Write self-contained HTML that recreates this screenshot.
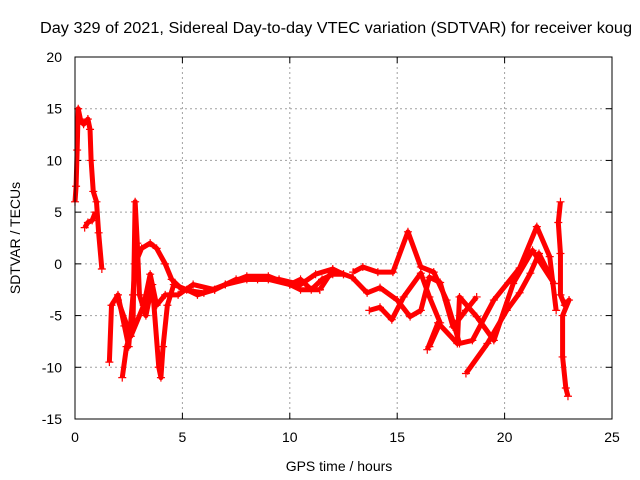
<!DOCTYPE html>
<html><head><meta charset="utf-8"><style>
body{margin:0;background:#fff;}
svg{display:block;font-family:"Liberation Sans",sans-serif;font-size:14px;}
</style></head><body>
<svg id="chart" width="640" height="480">
<text x="40" y="33" textLength="592" lengthAdjust="spacingAndGlyphs" style="font-size:15.5px">Day 329 of 2021, Sidereal Day-to-day VTEC variation (SDTVAR) for receiver koug</text>
<g id="grid"></g>
<g id="ticks"></g>
<g id="series"></g>
<rect x="75" y="57" width="537" height="362" fill="none" stroke="#000" stroke-width="1"/>
<text x="339" y="471" text-anchor="middle">GPS time / hours</text>
<text x="0" y="0" transform="translate(20,238) rotate(-90)" text-anchor="middle">SDTVAR / TECUs</text>
</svg>
<script>
const xTicks=[0,5,10,15,20,25];
const yTicks=[-15,-10,-5,0,5,10,15,20];
const trace0=[[0,6],[0.05,7.5],[0.1,11],[0.15,15],[0.25,14],[0.4,13.5],[0.6,14],[0.7,13],[0.75,10],[0.85,7],[1.0,6],[1.1,3],[1.25,-0.5]];
const trace1=[[0.45,3.5],[0.6,4],[0.8,4.2],[0.95,5]];
const trace2=[[1.6,-9.5],[1.7,-4],[2.0,-3],[2.3,-6],[2.5,-8],[2.7,-3],[2.8,0],[3.1,1.5],[3.5,2],[3.8,1.5],[4.2,0],[4.5,-1.5],[5,-2.5],[6,-2.8],[7,-2],[8,-1.5],[9,-1.5],[10,-2],[10.5,-1.5],[11,-2.5],[11.5,-1.5],[12,-1],[12.5,-1]];
const trace3=[[2.2,-11],[2.4,-8],[2.7,-6],[2.8,6],[2.9,2],[3.0,-3],[3.3,-5],[3.6,-2],[3.9,-10],[4.0,-11],[4.1,-8],[4.3,-4],[4.6,-2],[5.2,-2.5],[5.7,-3],[6.5,-2.5],[7,-2],[8,-1.2],[9,-1.2],[10,-2],[10.5,-2.5],[11.4,-2.5]];
const trace4=[[2.0,-3.5],[2.6,-7],[3.2,-4],[3.5,-1],[3.8,-4],[4.2,-3],[4.8,-3],[5.5,-2],[6.5,-2.5],[7.5,-1.5],[8.5,-1.5],[9.5,-1.5],[10.5,-2],[11.2,-1],[12,-0.5],[12.5,-1]];
const trace5=[[12.95,-0.8],[13.4,-0.3],[14.1,-0.8],[14.8,-0.8],[15.5,3.1],[16.1,-0.3],[16.7,-0.8],[17.3,-3.5],[17.9,-7.7],[18.5,-7.4],[19.5,-3.5],[20.7,-0.4],[21.5,3.6],[22.1,0.7],[22.4,-4.5]];
const trace6=[[11.4,-2.5],[12,-0.6],[12.9,-1.3],[13.6,-2.8],[14.2,-2.3],[15,-3.5],[15.6,-5.1],[16.1,-4.5],[16.5,-1.3],[17,-1.8],[17.6,-6.1],[18.2,-4.5],[18.7,-3.2]];
const trace7=[[13.7,-4.5],[14.2,-4.2],[14.75,-5.4],[15.3,-3.2],[16.1,-0.9],[16.5,-3.2],[17,-5.7],[16.5,-8]];
const trace8=[[16.4,-8.3],[16.9,-5.7],[17.8,-7.7],[17.9,-3.2],[18.7,-5.1],[19.5,-7.4],[20.4,-1.9],[21.3,1.3],[22.3,-1.9]];
const trace9=[[18.2,-10.6],[19.2,-7.7],[20.1,-4.5],[20.7,-2.8],[21.2,-0.9],[21.6,1.0],[22.3,-1.9]];
const trace10=[[22.6,6],[22.5,4],[22.6,1],[22.6,-3],[22.8,-4],[23,-3.5],[22.7,-5],[22.7,-9],[22.85,-12],[22.95,-12.8]];
const traces=[trace0,trace1,trace2,trace3,trace4,trace5,trace6,trace7,trace8,trace9,trace10];
const X=h=>75+h*537/25, Y=v=>57+(20-v)*362/35;
const NS="http://www.w3.org/2000/svg";
const grid=document.getElementById('grid'),ticks=document.getElementById('ticks'),ser=document.getElementById('series');
function mk(t,a,p){const e=document.createElementNS(NS,t);for(const k in a)e.setAttribute(k,a[k]);p.appendChild(e);return e;}
xTicks.forEach(t=>{const x=X(t);
 if(t>0&&t<25){const l=mk('line',{x1:x,x2:x,y1:57,y2:419,stroke:'#a0a0a0','stroke-dasharray':'2,3'},grid);
 
 }
 mk('line',{x1:x,x2:x,y1:419,y2:413,stroke:'#000'},ticks);mk('line',{x1:x,x2:x,y1:57,y2:63,stroke:'#000'},ticks);
 const tx=mk('text',{x:x,y:442,'text-anchor':'middle'},ticks);tx.textContent=t;
 
 });
yTicks.forEach(t=>{const y=Y(t);
 if(t>-15&&t<20){const l=mk('line',{x1:75,x2:612,y1:y,y2:y,stroke:'#a0a0a0','stroke-dasharray':'2,3'},grid);
 
 }
 mk('line',{x1:75,x2:81,y1:y,y2:y,stroke:'#000'},ticks);mk('line',{x1:612,x2:606,y1:y,y2:y,stroke:'#000'},ticks);
 const tx=mk('text',{x:62,y:y+5,'text-anchor':'end'},ticks);tx.textContent=t;
 
 });
traces.forEach((tr,i)=>{
 const pl=mk('polyline',{points:tr.map(p=>X(p[0])+','+Y(p[1])).join(' '),fill:'none',stroke:'#f00','stroke-width':5,'stroke-linejoin':'round'},ser);
 
 
 tr.forEach(p=>{const x=X(p[0]),y=Y(p[1]);
  const m=mk('path',{d:`M${x-4},${y}H${x+4}M${x},${y-4}V${y+4}`,stroke:'#f00','stroke-width':1.2},ser);
  
  });
});
</script>
</body></html>
